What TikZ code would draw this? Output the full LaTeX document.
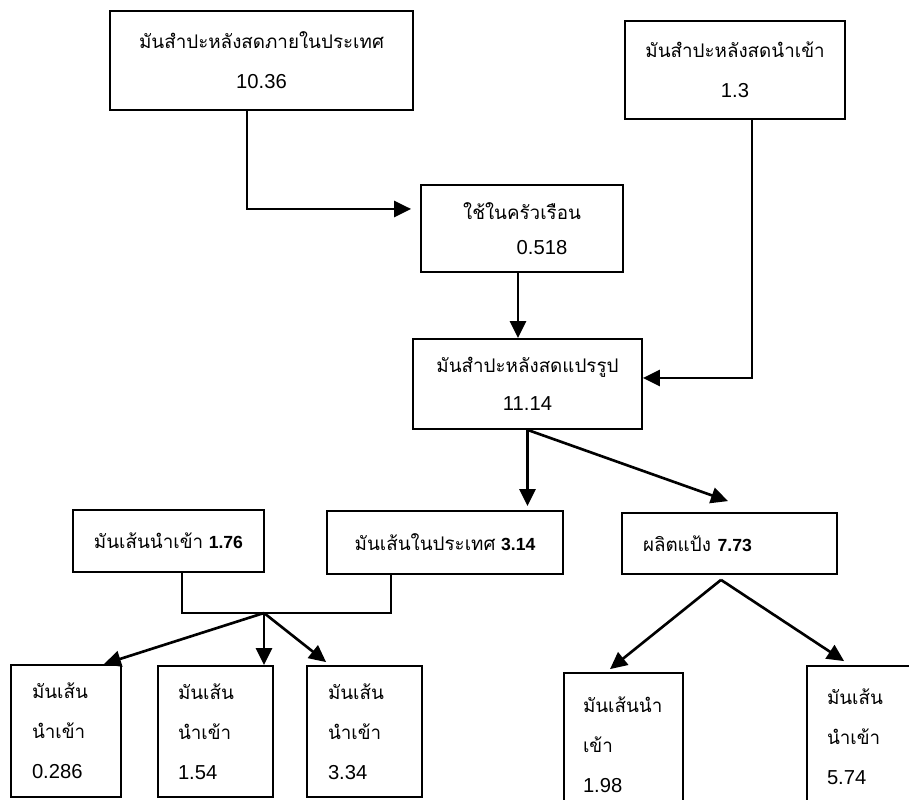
\documentclass[tikz,border=0pt]{standalone}
\usepackage{fontspec}
\setmainfont{Liberation Sans}
\newfontfamily\thaifont[Script=Thai,Scale=0.93]{Loma}
\usetikzlibrary{arrows.meta}
\newcommand{\thai}[1]{{\thaifont #1}}
\newcommand{\val}[1]{{\fontsize{10}{12}\selectfont\bfseries #1}}
\tikzset{
    box/.style={draw, line width=1pt, inner sep=0pt, align=center, font=\fontsize{11.5}{22.8}\selectfont},
    lbox/.style={box, align=left},
    flow/.style={line width=1.5pt, -{Triangle[length=0.34cm,width=0.32cm]}},
    link/.style={line width=1pt}
}
\begin{document}
\begin{tikzpicture}
            \useasboundingbox (0,0) rectangle (18.18,16);

            \node[box, minimum width=6.06cm, minimum height=1.98cm] (fresh) at (5.23,14.79) {\thai{มันสำปะหลังสดภายในประเทศ}\\10.36};
            \node[box, minimum width=4.4cm, minimum height=1.96cm] (import) at (14.7,14.6) {\thai{มันสำปะหลังสดนำเข้า}\\1.3};
            \node[box, minimum width=4.04cm, minimum height=1.74cm] (house) at (10.44,11.43) {\thai{ใช้ในครัวเรือน}\\[-3pt]\hspace*{0.8cm}0.518};
            \node[box, minimum width=4.58cm, minimum height=1.8cm] (proc) at (10.55,8.32) {\thai{มันสำปะหลังสดแปรรูป}\\[-1pt]11.14};

            \node[box, minimum width=3.82cm, minimum height=1.24cm] (chipimp) at (3.37,5.18) {\thai{มันเส้นนำเข้า} \val{1.76}};
            \node[box, minimum width=4.72cm, minimum height=1.26cm] (chipdom) at (8.9,5.15) {\thai{มันเส้นในประเทศ} \val{3.14}};
            \node[lbox, text width=3.46cm, inner xsep=0.42cm, minimum height=1.22cm] (starch) at (14.59,5.13) {\thai{ผลิตแป้ง} \val{7.73}};

            \node[lbox, text width=1.36cm, inner xsep=0.42cm, minimum height=2.64cm] (cA) at (1.32,1.38) {\thai{มันเส้น}\\\thai{นำเข้า}\\0.286};
            \node[lbox, text width=1.5cm, inner xsep=0.4cm, minimum height=2.62cm] (cB) at (4.31,1.37) {\thai{มันเส้น}\\\thai{นำเข้า}\\1.54};
            \node[lbox, text width=1.46cm, inner xsep=0.42cm, minimum height=2.62cm] (cC) at (7.29,1.37) {\thai{มันเส้น}\\\thai{นำเข้า}\\3.34};
            \node[lbox, text width=1.62cm, inner xsep=0.38cm, minimum height=2.88cm] (cD) at (12.47,1.1) {\thai{มันเส้นนำ}\\\thai{เข้า}\\1.98};
            \node[lbox, text width=1.66cm, inner xsep=0.4cm, minimum height=2.84cm] (cE) at (17.37,1.26) {\thai{มันเส้น}\\\thai{นำเข้า}\\5.74};

            \coordinate (bend1) at (4.94,11.82);
            \draw[flow, shorten >=0.18cm] (fresh.south -| bend1) -- (bend1) -- (bend1 -| house.west);
            \draw[flow] ([xshift=-0.08cm]house.south) -- ([xshift=-0.19cm]proc.north);
            \coordinate (bend2) at (15.04,8.44);
            \draw[flow] (import.south -| bend2) -- (bend2) -- (bend2 -| proc.east);

            \draw[flow, shorten >=0.08cm] (proc.south) -- (proc.south |- chipdom.north);
            \draw[flow] (proc.south) -- ([xshift=-0.03cm,yshift=0.22cm]starch.north);

            \coordinate (j1) at (3.64,3.74);
            \coordinate (j2) at (7.82,3.74);
            \coordinate (fork) at (5.28,3.74);
            \draw[link] (chipimp.south -| j1) -- (j1) -- (j2) -- (chipdom.south -| j2);
            \draw[flow] (fork) -- ([xshift=-0.36cm]cA.north east);
            \draw[flow] (fork) -- (fork |- cB.north);
            \draw[flow] (fork) -- ([xshift=0.4cm,yshift=0.06cm]cC.north west);

            \coordinate (fork2) at ([xshift=-0.17cm,yshift=-0.1cm]starch.south);
            \draw[flow] (fork2) -- ([xshift=-0.27cm,yshift=0.06cm]cD.north);
            \draw[flow] (fork2) -- ([xshift=0.76cm,yshift=0.08cm]cE.north west);
        \end{tikzpicture}
\end{document}
